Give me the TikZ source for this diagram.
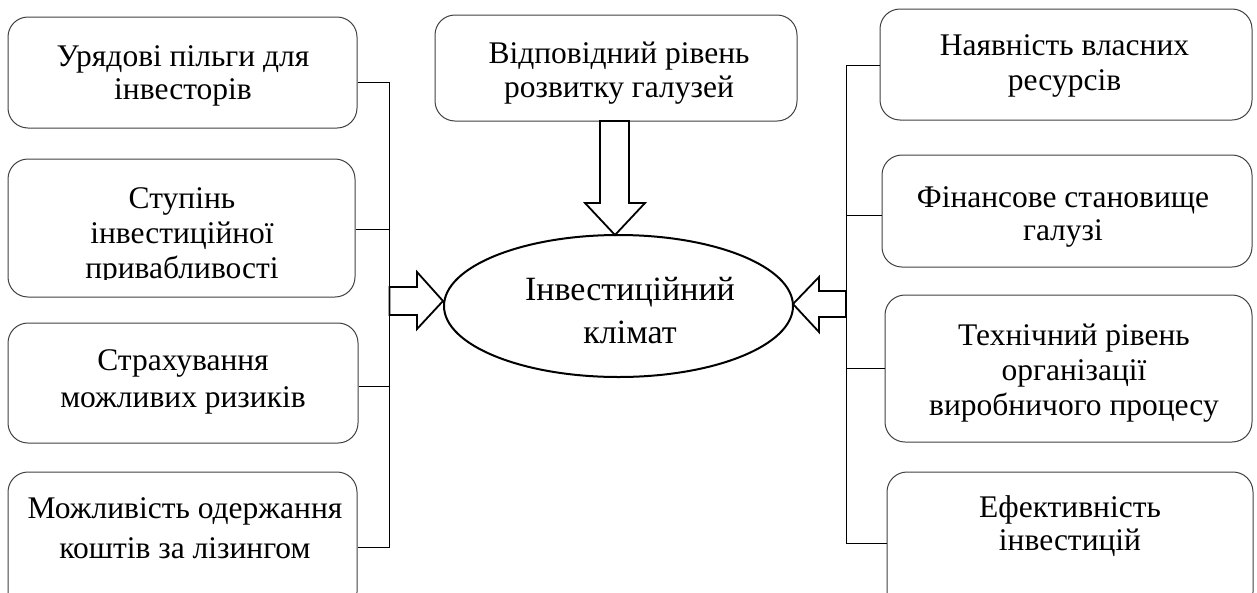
\documentclass[tikz,border=0pt]{standalone}
\usepackage{fontspec}
\setmainfont{Liberation Serif}
\usetikzlibrary{shapes.geometric}
\begin{document}
\begin{tikzpicture}[x=1pt,y=-1pt,
  box/.style={draw=black!75, line width=1pt, rounded corners=20pt, inner sep=0pt},
  txt/.style={align=center, inner sep=0pt, anchor=base, font=\fontsize{31.5}{35}\selectfont},
  conn/.style={draw=black, line width=1pt},
  barrow/.style={draw=black, line width=1.8pt, fill=white, line join=miter}]
\useasboundingbox (0,0) rectangle (1257,592);
\clip (0,0) rectangle (1257,592);

% left boxes
\node[box, minimum width=349pt, minimum height=111pt] (L1) at (182.5,72.5) {};
\node[box, minimum width=347pt, minimum height=138pt] (L2) at (181.5,228) {};
\node[box, minimum width=350pt, minimum height=120pt] (L3) at (183,383) {};
\node[box, minimum width=349pt, minimum height=140pt] (L4) at (182.5,542) {};
% top box
\node[box, minimum width=362pt, minimum height=106pt] (T) at (616,68) {};
% right boxes
\node[box, minimum width=372pt, minimum height=111pt] (R1) at (1066,64.5) {};
\node[box, minimum width=370pt, minimum height=112pt] (R2) at (1067,211) {};
\node[box, minimum width=367pt, minimum height=147pt] (R3) at (1068.5,368.5) {};
\node[box, minimum width=366pt, minimum height=140pt] (R4) at (1070,542) {};

% texts (anchor base = last line's baseline)
\node[txt, font=\fontsize{31.5}{33}\selectfont] (L1t) at (183,99) {Урядові пільги для\\інвесторів};
\begin{scope}
\clip (0,0) rectangle (1257,279);
\node[txt] (L2t) at (182,278) {Ступінь\\інвестиційної\\привабливості};
\end{scope}
\node[txt, font=\fontsize{31.5}{37}\selectfont] (L3t) at (183,407) {Страхування\\можливих ризиків};
\node[txt, font=\fontsize{31.5}{40}\selectfont] (L4t) at (185,558) {Можливість одержання\\коштів за лізингом};
\node[txt, font=\fontsize{31.5}{34}\selectfont] (Tt) at (619,97) {Відповідний рівень\\розвитку галузей};
\node[txt] (R1t) at (1064.5,90) {Наявність власних\\ресурсів};
\node[txt, font=\fontsize{31.5}{33}\selectfont] (R2t) at (1063,240) {Фінансове становище\\галузі};
\node[txt] (R3t) at (1074,415) {Технічний рівень\\організації\\виробничого процесу};
\node[txt, font=\fontsize{31.5}{33}\selectfont] (R4t) at (1070,550) {Ефективність\\інвестицій};

% left bracket
\coordinate (la1) at (389.5,82);
\coordinate (la2) at (389.5,229);
\coordinate (la3) at (389.5,386);
\coordinate (la4) at (389.5,547);
\draw[conn] (la1) -- (la4);
\draw[conn] (L1.east |- la1) -- (la1);
\draw[conn] (L2.east |- la2) -- (la2);
\draw[conn] (L3.east |- la3) -- (la3);
\draw[conn] (L4.east |- la4) -- (la4);

% right bracket
\coordinate (ra1) at (846,65);
\coordinate (ra2) at (846,215);
\coordinate (ra3) at (846,368);
\coordinate (ra4) at (846,543);
\draw[conn] (ra1) -- (ra4);
\draw[conn] (R1.west |- ra1) -- (ra1);
\draw[conn] (R2.west |- ra2) -- (ra2);
\draw[conn] (R3.west |- ra3) -- (ra3);
\draw[conn] (R4.west |- ra4) -- (ra4);

% block arrows
\draw[barrow] (389.5,287) -- (417,287) -- (417,272) -- (443,301) -- (417,329) -- (417,315) -- (389.5,315) -- cycle;
\draw[barrow] (600,121) -- (600,203) -- (585,203) -- (615,235) -- (645,203) -- (629,203) -- (629,121) -- cycle;
\draw[barrow] (846,291) -- (819,291) -- (819,277) -- (793,304) -- (819,332) -- (819,317) -- (846,317) -- cycle;

% ellipse
\node[draw=black, line width=2pt, ellipse, minimum width=349pt, minimum height=142pt, inner sep=0pt] (E) at (618.5,306) {};
\node[txt, font=\fontsize{34}{43}\selectfont] (Et) at (630,343) {Інвестиційний\\клімат};
\end{tikzpicture}
\end{document}
